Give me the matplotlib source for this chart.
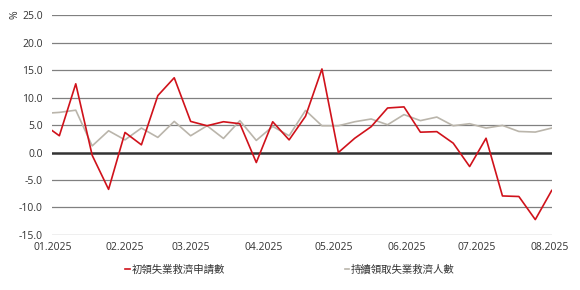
import matplotlib
matplotlib.use("Agg")
import matplotlib.pyplot as plt
import matplotlib.dates as mdates
import numpy as np
import datetime as dt

plt.rcParams['font.family'] = ['Open Sans', 'Noto Sans CJK TC', 'DejaVu Sans']

# Weekly data (week ending Saturdays), first point before axis start is clipped
start = dt.date(2024, 12, 28)
dates = [start + dt.timedelta(weeks=i) for i in range(32)]

initial_claims = [5.2, 3.05, 12.5, -0.5, -6.7, 3.65, 1.4, 10.35, 13.6, 5.66, 4.87,
                  5.6, 5.24, -1.82, 5.6, 2.3, 6.6, 15.2, 0.0, 2.6, 4.7, 8.1,
                  8.3, 3.7, 3.8, 1.7, -2.55, 2.6, -7.9, -8.0, -12.2, -6.9]
continuing_claims = [7.1, 7.3, 7.7, 1.2, 3.96, 2.3, 4.45, 2.75, 5.66, 3.05, 4.87,
                     2.56, 5.8, 2.2, 4.75, 3.05, 7.66, 4.87, 4.87, 5.6, 6.1, 5.05,
                     6.9, 5.8, 6.45, 4.87, 5.24, 4.45, 4.93, 3.83, 3.72, 4.45]

series_names = ['初領失業救濟申請數', '持續領取失業救濟人數']
y_ticks = [-15, -10, -5, 0, 5, 10, 15, 20, 25]
x_tick_dates = [dt.date(2025, m, 1) for m in range(1, 9)]

fig = plt.figure(figsize=(5.8, 2.9), dpi=100)
ax = fig.add_axes([0.0902, 0.1897, 0.8610, 0.7583])

red = '#d0121b'
gray = '#bab5ab'

for y in y_ticks:
    if y == 0:
        ax.axhline(y, color='#333333', lw=1.8, zorder=1)
    else:
        ax.axhline(y, color='#808080', lw=0.9, zorder=1)

ax.plot(dates, continuing_claims, color=gray, lw=1.2, zorder=2, label=series_names[1])
ax.plot(dates, initial_claims, color=red, lw=1.2, zorder=3, label=series_names[0])

ax.set_xlim(dt.date(2025, 1, 1), dt.date(2025, 8, 2))
ax.set_ylim(-15, 25)
ax.set_yticks(y_ticks)
ax.set_yticklabels([f'{v:.1f}' for v in y_ticks])
ax.set_xticks(x_tick_dates)
ax.xaxis.set_major_formatter(mdates.DateFormatter('%m.%Y'))
ax.tick_params(axis='both', length=0, labelsize=7.5, colors='#333333')
ax.tick_params(axis='y', pad=7)
ax.tick_params(axis='x', pad=5)
for s in ax.spines.values():
    s.set_visible(False)

fig.text(0.025, 0.948, '%', rotation=90, fontsize=7.5, color='#333333',
         ha='center', va='center')

handles, labels = ax.get_legend_handles_labels()
leg = fig.legend(handles[::-1], labels[::-1], loc='center', bbox_to_anchor=(0.5, 0.067),
                 ncol=2, frameon=False, fontsize=7.5, handlelength=0.45,
                 handletextpad=0.15, columnspacing=11.5)
for t in leg.get_texts():
    t.set_color('#333333')

fig.savefig('out.png', dpi=100)
